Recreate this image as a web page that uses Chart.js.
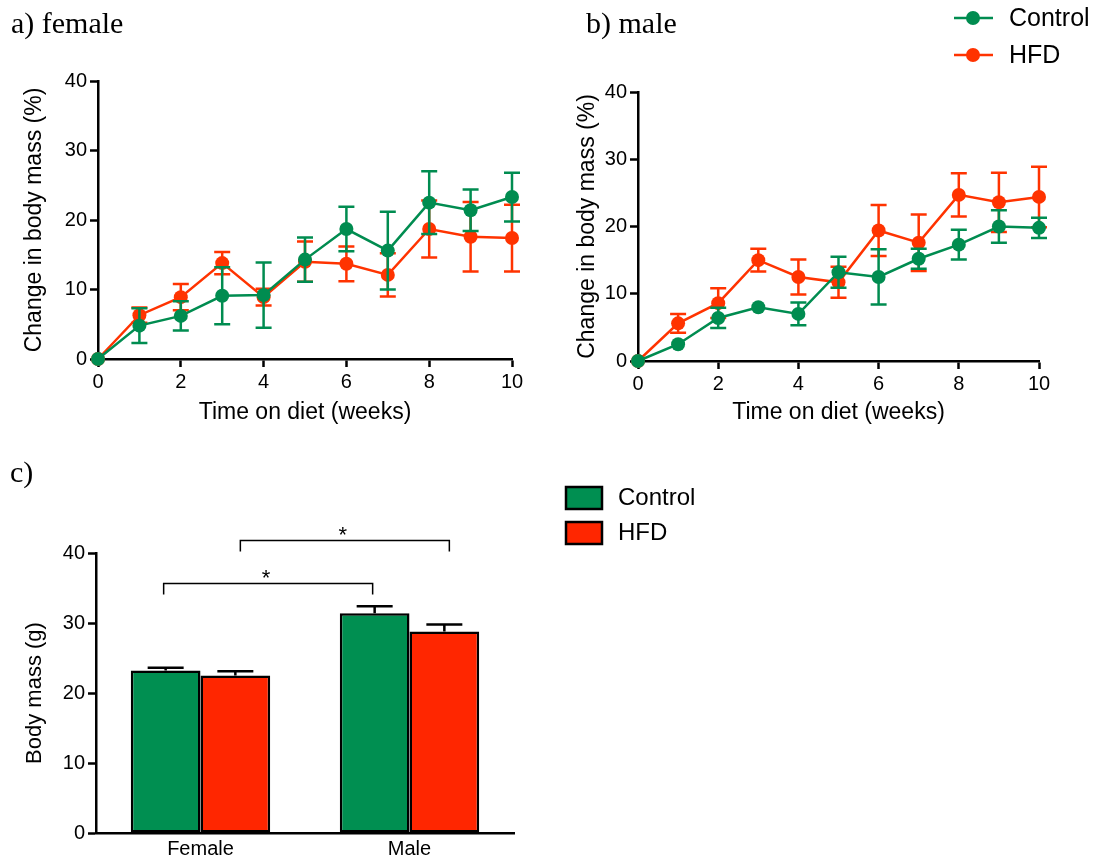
<!DOCTYPE html>
<html>
<head>
<meta charset="utf-8">
<script src="https://cdn.jsdelivr.net/npm/chart.js@4.4.1/dist/chart.umd.min.js"></script>
<style>
  body { margin: 0; background: #fff; }
  #wrap { position: relative; width: 1101px; height: 859px; overflow: hidden; }
  canvas { position: absolute; }
</style>
</head>
<body>
<div id="wrap">
  <canvas id="femaleChart" width="540" height="440" style="left:0;top:0"></canvas>
  <canvas id="maleChart" width="561" height="440" style="left:540px;top:0"></canvas>
  <canvas id="massChart" width="1101" height="419" style="left:0;top:440px"></canvas>
</div>
<script>
// --- data -----------------------------------------------------------------
const weeks = [0, 1, 2, 3, 4, 5, 6, 7, 8, 9, 10];

const femaleControl    = [0, 4.8, 6.2, 9.1, 9.2, 14.3, 18.7, 15.6, 22.5, 21.4, 23.3];
const femaleControlSem = [0, 2.5, 2.1, 4.1, 4.7, 3.2, 3.2, 5.6, 4.5, 3.0, 3.5];
const femaleHfd        = [0, 6.3, 8.9, 13.8, 8.9, 14.0, 13.7, 12.1, 18.7, 17.6, 17.4];
const femaleHfdSem     = [0, 1.1, 1.9, 1.6, 1.2, 2.9, 2.5, 3.1, 4.1, 5.0, 4.8];

const maleControl    = [0, 2.5, 6.4, 8.0, 7.0, 13.2, 12.5, 15.2, 17.3, 20.0, 19.8];
const maleControlSem = [0, 0, 1.5, 0, 1.7, 2.3, 4.1, 1.5, 2.2, 2.4, 1.5];
const maleHfd        = [0, 5.6, 8.6, 15.0, 12.5, 11.7, 19.4, 17.6, 24.7, 23.6, 24.4];
const maleHfdSem     = [0, 1.4, 2.2, 1.7, 2.6, 2.3, 3.8, 4.2, 3.2, 4.4, 4.5];

const sexes          = ["Female", "Male"];
const massControl    = [23.2, 31.4];
const massControlSem = [0.4, 1.0];
const massHfd        = [22.5, 28.8];
const massHfdSem     = [0.6, 1.0];

// significance brackets: [datasetIndex, categoryIndex] pairs, level in grams
const brackets = [
    { from: [0, 0], to: [0, 1], level: 35.7, label: "*" },
    { from: [1, 0], to: [1, 1], level: 41.8, label: "*" },
];

// --- styling ----------------------------------------------------------------
const GREEN = "#008c50";
const RED = "#ff3300";
const BAR_GREEN = "#008f51";
const BAR_RED = "#ff2600";
const SANS = "'Liberation Sans', Arial, sans-serif";
const SERIF = "'Liberation Serif', 'Times New Roman', serif";

Chart.defaults.font.family = SANS;
Chart.defaults.color = "#000";

// error bars: whiskers for line charts (drawn under each series),
// upper-only for bars (drawn on top of the bar)
function drawErrors(chart, index, meta, opts) {
    const ds = chart.data.datasets[index];
    if (!ds.sem) {
        return;
    }
    const yScale = chart.scales.y;
    const ctx = chart.ctx;
    ctx.save();
    ctx.strokeStyle = opts.color || ds.borderColor;
    ctx.lineWidth = opts.lineWidth;
    meta.data.forEach((el, i) => {
        const e = ds.sem[i];
        if (!e) {
            return;
        }
        const d = ds.data[i];
        const v = typeof d === "object" ? d.y : d;
        const top = yScale.getPixelForValue(v + e);
        const bot = yScale.getPixelForValue(opts.upperOnly ? v : v - e);
        const x = el.x;
        const h = opts.capWidth / 2;
        ctx.beginPath();
        ctx.moveTo(x, top);
        ctx.lineTo(x, bot);
        ctx.moveTo(x - h, top);
        ctx.lineTo(x + h, top);
        if (!opts.upperOnly) {
            ctx.moveTo(x - h, bot);
            ctx.lineTo(x + h, bot);
        }
        ctx.stroke();
    });
    ctx.restore();
}

const errorBars = {
    id: "errorBars",
    beforeDatasetDraw(chart, args, opts) {
        if (!opts.upperOnly) {
            drawErrors(chart, args.index, args.meta, opts);
        }
    },
    afterDatasetDraw(chart, args, opts) {
        if (opts.upperOnly) {
            drawErrors(chart, args.index, args.meta, opts);
        }
    },
};

function panelLabel(text, x, y) {
    return {
        id: "panelLabel",
        afterDraw(chart) {
            const ctx = chart.ctx;
            ctx.save();
            ctx.font = "30px " + SERIF;
            ctx.fillStyle = "#000";
            ctx.textBaseline = "alphabetic";
            ctx.fillText(text, x, y);
            ctx.restore();
        },
    };
}

function lineData(values, sem, label, color) {
    return {
        label,
        data: weeks.map((w, i) => ({ x: w, y: values[i] })),
        sem,
        borderColor: color,
        backgroundColor: color,
        pointBackgroundColor: color,
        pointBorderWidth: 0,
        pointRadius: 7,
        borderWidth: 2.5,
        tension: 0,
        clip: false,
    };
}

function lineOptions(pad, yWidth, xHeight, yTitlePad) {
    const axisFont = { size: 20 };
    const titleFont = { size: 23 };
    return {
        responsive: false,
        animation: false,
        layout: { padding: pad },
        plugins: {
            legend: { display: false },
            tooltip: { enabled: false },
            errorBars: { capWidth: 16, lineWidth: 2.5 },
        },
        scales: {
            x: {
                type: "linear",
                min: 0,
                max: 10,
                ticks: { stepSize: 2, font: axisFont, padding: 3 },
                grid: { drawOnChartArea: false, tickLength: 8, tickWidth: 2.5, tickColor: "#000" },
                border: { color: "#000", width: 2.5 },
                title: {
                    display: true,
                    text: "Time on diet (weeks)",
                    font: titleFont,
                    padding: { top: 0, bottom: 14 },
                },
                afterFit: (s) => { s.height = xHeight; },
            },
            y: {
                min: 0,
                max: 40,
                ticks: { stepSize: 10, font: axisFont, padding: 3 },
                grid: { drawOnChartArea: false, tickLength: 8, tickWidth: 2.5, tickColor: "#000" },
                border: { color: "#000", width: 2.5 },
                title: {
                    display: true,
                    text: "Change in body mass (%)",
                    font: titleFont,
                    padding: { top: yTitlePad, bottom: 0 },
                },
                afterFit: (s) => { s.width = yWidth; },
            },
        },
    };
}

// a) female
new Chart(document.getElementById("femaleChart"), {
    type: "line",
    data: {
        datasets: [
            lineData(femaleControl, femaleControlSem, "Control", GREEN),
            lineData(femaleHfd, femaleHfdSem, "HFD", RED),
        ],
    },
    options: lineOptions({ top: 81, right: 28, left: 0, bottom: 0 }, 98, 81, 21),
    plugins: [errorBars, panelLabel("a) female", 11, 33)],
});

// b) male, with the shared series legend in the top right
const lineLegend = {
    id: "lineLegend",
    afterDraw(chart) {
        const ctx = chart.ctx;
        ctx.save();
        chart.data.datasets.forEach((ds, i) => {
            const y = 18 + i * 37;
            ctx.strokeStyle = ds.borderColor;
            ctx.lineWidth = 2.5;
            ctx.beginPath();
            ctx.moveTo(414, y);
            ctx.lineTo(453, y);
            ctx.stroke();
            ctx.fillStyle = ds.borderColor;
            ctx.beginPath();
            ctx.arc(433, y, 7, 0, Math.PI * 2);
            ctx.fill();
            ctx.fillStyle = "#000";
            ctx.font = "25px " + SANS;
            ctx.textBaseline = "middle";
            ctx.fillText(ds.label, 469, y + 1);
        });
        ctx.restore();
    },
};

new Chart(document.getElementById("maleChart"), {
    type: "line",
    data: {
        datasets: [
            lineData(maleControl, maleControlSem, "Control", GREEN),
            lineData(maleHfd, maleHfdSem, "HFD", RED),
        ],
    },
    options: lineOptions({ top: 92, right: 62, left: 0, bottom: 0 }, 98, 79, 34),
    plugins: [errorBars, lineLegend, panelLabel("b) male", 46, 33)],
});

// c) body mass bars
const bracketNudge = [-2, 5];
const barExtras = {
    id: "barExtras",
    afterDraw(chart) {
        const ctx = chart.ctx;
        const yScale = chart.scales.y;
        ctx.save();
        // significance brackets
        ctx.strokeStyle = "#000";
        ctx.lineWidth = 1.5;
        ctx.fillStyle = "#000";
        ctx.font = "22px " + SANS;
        ctx.textAlign = "center";
        ctx.textBaseline = "alphabetic";
        brackets.forEach((b, k) => {
            const x1 = chart.getDatasetMeta(b.from[0]).data[b.from[1]].x + bracketNudge[k];
            const x2 = chart.getDatasetMeta(b.to[0]).data[b.to[1]].x + bracketNudge[k];
            const y = Math.round(yScale.getPixelForValue(b.level)) + 0.5;
            ctx.beginPath();
            ctx.moveTo(x1, y + 11);
            ctx.lineTo(x1, y);
            ctx.lineTo(x2, y);
            ctx.lineTo(x2, y + 11);
            ctx.stroke();
            ctx.fillText(b.label, (x1 + x2) / 2 - 2, y + 1);
        });
        // legend
        ctx.textAlign = "left";
        ctx.textBaseline = "middle";
        ctx.font = "24px " + SANS;
        chart.data.datasets.forEach((ds, i) => {
            const y = 47 + i * 35;
            ctx.fillStyle = ds.backgroundColor;
            ctx.fillRect(566, y, 36, 22);
            ctx.lineWidth = 2.5;
            ctx.strokeRect(566, y, 36, 22);
            ctx.fillStyle = "#000";
            ctx.fillText(ds.label, 618, y + 11);
        });
        ctx.restore();
    },
};

function barData(values, sem, label, color) {
    return {
        label,
        data: values,
        sem,
        backgroundColor: color,
        borderColor: "#000",
        borderWidth: 2.5,
        borderSkipped: false,
        categoryPercentage: 0.667,
        barPercentage: 1,
    };
}

new Chart(document.getElementById("massChart"), {
    type: "bar",
    data: {
        labels: sexes,
        datasets: [
            barData(massControl, massControlSem, "Control", BAR_GREEN),
            barData(massHfd, massHfdSem, "HFD", BAR_RED),
        ],
    },
    options: {
        responsive: false,
        animation: false,
        layout: { padding: { top: 113, right: 587, left: 0, bottom: 0 } },
        plugins: {
            legend: { display: false },
            tooltip: { enabled: false },
            errorBars: { upperOnly: true, capWidth: 36, lineWidth: 2.5, color: "#000" },
        },
        scales: {
            x: {
                ticks: { font: { size: 20 }, padding: 4 },
                grid: { drawOnChartArea: false, drawTicks: false },
                border: { color: "#000", width: 2.5 },
                afterFit: (s) => { s.height = 26; },
            },
            y: {
                min: 0,
                max: 40,
                ticks: { stepSize: 10, font: { size: 20 }, padding: 3 },
                grid: { drawOnChartArea: false, tickLength: 8, tickWidth: 2.5, tickColor: "#000" },
                border: { color: "#000", width: 2.5 },
                title: {
                    display: true,
                    text: "Body mass (g)",
                    font: { size: 22 },
                    padding: { top: 22, bottom: 0 },
                },
                afterFit: (s) => { s.width = 96; },
            },
        },
    },
    plugins: [errorBars, barExtras, panelLabel("c)", 10, 42)],
});
</script>
</body>
</html>
